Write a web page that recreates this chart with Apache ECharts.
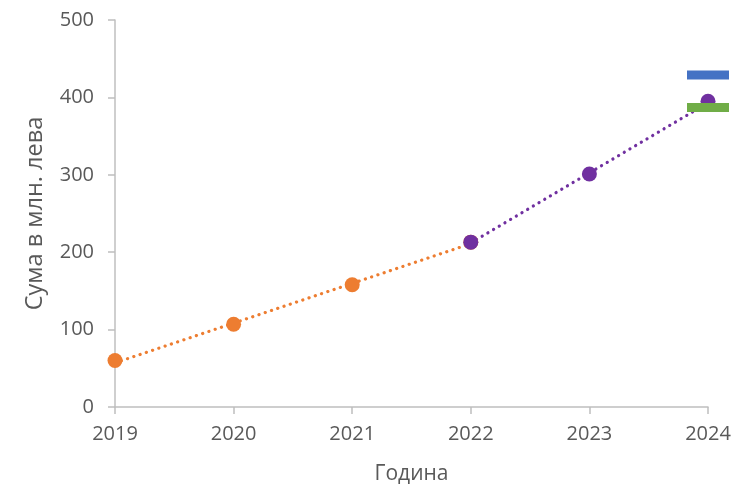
<!DOCTYPE html>
<html><head><meta charset="utf-8">
<script src="https://cdn.jsdelivr.net/npm/echarts@6/dist/echarts.min.js"></script>
<style>html,body{margin:0;padding:0;background:#fff}#c{width:735px;height:490px}</style>
</head><body><div id="c"></div>
<script>
const orangeYears = [2019, 2020, 2021, 2022];
const orangeValues = [60, 107, 158, 213];
const purpleYears = [2022, 2023, 2024];
const purpleValues = [213, 301, 395];
const orangeTrendYears = [2019, 2022];
const orangeTrendValues = [57, 211];
const purpleTrendYears = [2022, 2024];
const purpleTrendValues = [212, 393];
const blueMark = [[2024, 429]];
const greenMark = [[2024, 387]];
const yTicks = [0, 100, 200, 300, 400, 500];

const zip = (xs, ys) => xs.map((x, i) => [x, ys[i]]);
const axisColor = '#bfbfbf';
const textColor = '#595959';
const font = 'Open Sans, Calibri, Liberation Sans, sans-serif';
const dotted = (c) => ({ color: c, width: 3.2, type: [0.1, 6.5], cap: 'round' });

const chart = echarts.init(document.getElementById('c'));
chart.setOption({
  animation: false,
  grid: { left: 115, right: 27, top: 20, bottom: 83 },
  xAxis: {
    type: 'value', min: 2019, max: 2024, interval: 1,
    name: 'Година', nameLocation: 'middle', nameGap: 57,
    nameTextStyle: { color: textColor, fontSize: 21, fontFamily: font },
    axisLine: { show: true, lineStyle: { color: axisColor, width: 1.5 } },
    axisTick: { show: true, length: 7, lineStyle: { color: axisColor, width: 1.5 } },
    axisLabel: { color: textColor, fontSize: 20, fontFamily: font, margin: 17, formatter: v => String(v) },
    splitLine: { show: false }
  },
  yAxis: {
    type: 'value', min: yTicks[0], max: yTicks[yTicks.length - 1], interval: 100,
    name: 'Сума в млн. лева', nameLocation: 'middle', nameGap: 68,
    nameTextStyle: { color: textColor, fontSize: 23.5, fontFamily: font },
    axisLine: { show: true, lineStyle: { color: axisColor, width: 1.5 } },
    axisTick: { show: true, length: 7, lineStyle: { color: axisColor, width: 1.5 } },
    axisLabel: { color: textColor, fontSize: 20, fontFamily: font, margin: 21 },
    splitLine: { show: false }
  },
  series: [
    { type: 'line', data: zip(orangeTrendYears, orangeTrendValues), symbol: 'none', lineStyle: dotted('#ED7D31'), z: 2 },
    { type: 'line', data: zip(purpleTrendYears, purpleTrendValues), symbol: 'none', lineStyle: dotted('#7030A0'), z: 2 },
    { type: 'scatter', data: zip(orangeYears, orangeValues), symbol: 'circle', symbolSize: 15, itemStyle: { color: '#ED7D31', opacity: 1 }, z: 3 },
    { type: 'scatter', data: zip(purpleYears, purpleValues), symbol: 'circle', symbolSize: 15, itemStyle: { color: '#7030A0', opacity: 1 }, z: 4 },
    { type: 'scatter', data: blueMark, symbol: 'rect', symbolSize: [42, 9], itemStyle: { color: '#4472C4', opacity: 1 }, z: 5 },
    { type: 'scatter', data: greenMark, symbol: 'rect', symbolSize: [42, 9], itemStyle: { color: '#70AD47', opacity: 1 }, z: 5 }
  ]
});
</script></body></html>
